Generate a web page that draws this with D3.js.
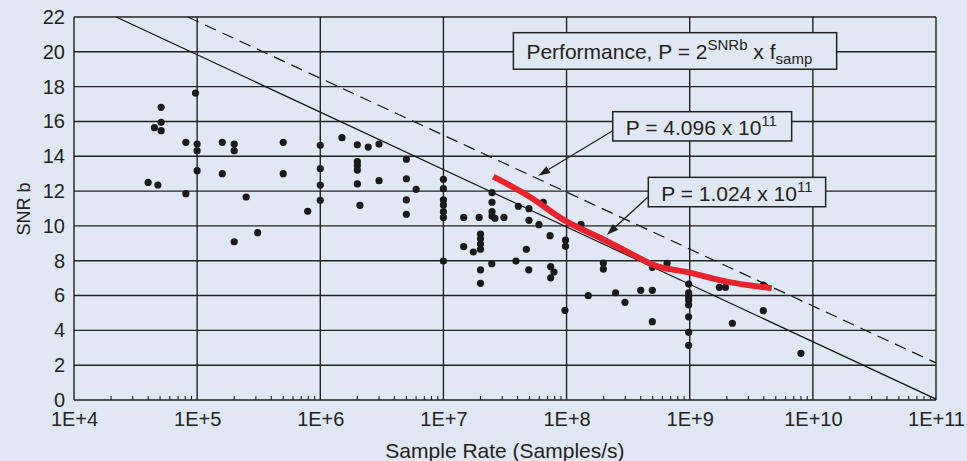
<!DOCTYPE html>
<html>
<head>
<meta charset="utf-8">
<script src="https://cdn.jsdelivr.net/npm/d3@7"></script>
<style>
  html, body { margin: 0; padding: 0; background: #e1e8f5; }
  svg { display: block; font-family: "Liberation Sans", Arial, Helvetica, sans-serif; }
</style>
</head>
<body>
<svg width="967" height="461"></svg>
<script>
// sample rate (samples/s) and SNR bits for each converter
var sampleRate = [
    4.0e4, 4.8e4, 4.5e4, 5.1e4, 5.1e4, 5.1e4, 8.1e4, 8.1e4, 9.7e4, 1e5,
    1e5, 1e5, 1.6e5, 1.6e5, 2e5, 2e5, 2e5, 2.5e5, 3.1e5, 5e5,
    5e5, 7.9e5, 1e6, 1e6, 1e6, 1e6, 1.5e6, 2e6, 2.45e6, 3e6,
    2e6, 2e6, 2e6, 2e6, 3e6, 2.1e6, 5e6, 5e6, 6e6, 5e6,
    5e6, 1e7, 1e7, 1e7, 1e7, 1e7, 1e7, 1e7, 1.46e7, 1.95e7,
    1.46e7, 1.75e7, 2e7, 2e7, 2e7, 2e7, 2e7, 2e7, 2.48e7, 2.48e7,
    2.48e7, 2.48e7, 2.62e7, 2.47e7, 3.1e7, 4.06e7, 3.88e7, 4.95e7, 4.95e7, 4.71e7,
    4.93e7, 5.97e7, 6.47e7, 7.34e7, 7.43e7, 7.9e7, 7.43e7, 9.8e7, 9.8e7, 9.7e7,
    1.31e8, 1.5e8, 1.99e8, 1.99e8, 2.5e8, 2.98e8, 4.0e8, 4.97e8, 4.97e8, 4.97e8,
    6.55e8, 9.8e8, 9.8e8, 9.8e8, 9.8e8, 9.8e8, 9.8e8, 9.8e8, 9.8e8, 1.74e9,
    1.95e9, 2.22e9, 3.96e9, 3.96e9, 8.0e9
];
var snrBits = [
    12.5, 12.35, 15.64, 16.81, 15.95, 15.47, 14.8, 11.85, 17.63, 14.7,
    14.32, 13.17, 14.8, 13.0, 14.7, 14.32, 9.09, 11.66, 9.61, 14.8,
    13.0, 10.84, 14.63, 13.29, 12.35, 11.47, 15.07, 14.66, 14.53, 14.7,
    13.69, 13.46, 13.21, 12.41, 12.6, 11.18, 13.83, 12.71, 12.1, 11.49,
    10.67, 12.68, 12.14, 11.49, 11.2, 10.82, 10.49, 7.98, 10.49, 10.49,
    8.81, 8.5, 9.53, 9.26, 8.96, 8.66, 7.47, 6.7, 11.91, 11.36,
    10.82, 10.57, 10.44, 7.83, 10.49, 11.13, 7.98, 10.99, 10.32, 8.66,
    7.48, 10.07, 11.36, 9.44, 7.66, 7.35, 7.02, 9.19, 8.83, 5.15,
    10.09, 5.99, 7.87, 7.52, 6.16, 5.61, 6.3, 6.3, 7.62, 4.5,
    7.85, 6.66, 6.15, 5.93, 5.74, 5.46, 4.78, 3.89, 3.14, 6.47,
    6.47, 4.41, 6.6, 5.13, 2.68
];

// red trend curve
var trendRate = [2.54e7, 5.05e7, 9.4e7, 1.99e8, 3.27e8, 5.06e8, 9.8e8, 2.0e9, 4.63e9];
var trendSnr  = [12.83, 11.66, 10.36, 9.22, 8.44, 7.76, 7.33, 6.8, 6.42];

// constant-performance lines (end points)
var solidLineRate = [2.2e4, 1e11];
var solidLineSnr  = [22, 0.05];
var dashLineRate  = [8.4e4, 1e11];
var dashLineSnr   = [22, 2.13];

var xTicks = [1e4, 1e5, 1e6, 1e7, 1e8, 1e9, 1e10, 1e11];
var xTickLabels = ["1E+4", "1E+5", "1E+6", "1E+7", "1E+8", "1E+9", "1E+10", "1E+11"];
var yTicks = [0, 2, 4, 6, 8, 10, 12, 14, 16, 18, 20, 22];

var svg = d3.select("svg");
var ink = "#222";

var x = d3.scaleLog().domain([1e4, 1e11]).range([74, 936]);
var y = d3.scaleLinear().domain([0, 22]).range([400, 17]);

var g = svg.append("g");

// grid
g.selectAll("line.hgrid").data(yTicks).enter().append("line")
    .attr("class", "hgrid")
    .attr("x1", x(1e4)).attr("x2", x(1e11))
    .attr("y1", function (d) { return y(d); }).attr("y2", function (d) { return y(d); })
    .attr("stroke", ink).attr("stroke-width", 1.4);
g.selectAll("line.vgrid").data(xTicks).enter().append("line")
    .attr("class", "vgrid")
    .attr("x1", function (d) { return x(d); }).attr("x2", function (d) { return x(d); })
    .attr("y1", y(0)).attr("y2", y(22))
    .attr("stroke", ink).attr("stroke-width", 1.4);

// minor ticks along the bottom
var minor = [];
xTicks.slice(0, -1).forEach(function (d) {
    for (var k = 2; k <= 9; k++) minor.push(d * k);
});
g.selectAll("line.minor").data(minor).enter().append("line")
    .attr("x1", function (d) { return x(d); }).attr("x2", function (d) { return x(d); })
    .attr("y1", y(0)).attr("y2", y(0) - 4)
    .attr("stroke", ink).attr("stroke-width", 1.1);

// axes
var xAxis = d3.axisBottom(x).tickValues(xTicks)
    .tickFormat(function (d, i) { return xTickLabels[i]; })
    .tickSize(0).tickPadding(12);
var yAxis = d3.axisLeft(y).tickValues(yTicks).tickSize(0).tickPadding(9);

var gx = svg.append("g").attr("transform", "translate(0," + y(0) + ")").call(xAxis);
var gy = svg.append("g").attr("transform", "translate(" + x(1e4) + ",0)").call(yAxis);
[gx, gy].forEach(function (a) {
    a.select(".domain").remove();
    a.selectAll("text").attr("font-size", 20).attr("fill", ink)
        .attr("font-family", "Liberation Sans, Arial, sans-serif");
});
gx.selectAll("text").attr("dy", "0.68em");

svg.append("text")
    .attr("x", 505).attr("y", 458)
    .attr("text-anchor", "middle").attr("font-size", 21).attr("fill", ink)
    .text("Sample Rate (Samples/s)");
svg.append("text")
    .attr("transform", "translate(30,209) rotate(-90)")
    .attr("text-anchor", "middle").attr("font-size", 18).attr("fill", ink)
    .text("SNR b");

// performance lines
var line = d3.line()
    .x(function (d) { return x(d[0]); })
    .y(function (d) { return y(d[1]); });

g.append("path")
    .datum(d3.zip(solidLineRate, solidLineSnr))
    .attr("d", line).attr("fill", "none")
    .attr("stroke", "#111").attr("stroke-width", 1.2);
g.append("path")
    .datum(d3.zip(dashLineRate, dashLineSnr))
    .attr("d", line).attr("fill", "none")
    .attr("stroke", "#111").attr("stroke-width", 1.2)
    .attr("stroke-dasharray", "12,7");

// data points
g.selectAll("circle").data(d3.zip(sampleRate, snrBits)).enter().append("circle")
    .attr("cx", function (d) { return x(d[0]); })
    .attr("cy", function (d) { return y(d[1]); })
    .attr("r", 3.6)
    .attr("fill", "#1a1a1a");

// red trend
g.append("path")
    .datum(d3.zip(trendRate, trendSnr))
    .attr("d", line.curve(d3.curveMonotoneX))
    .attr("fill", "none")
    .attr("stroke", "#e8232b").attr("stroke-width", 6);

// annotation boxes
function box(x0, y0, x1, y1) {
    svg.append("rect")
        .attr("x", x(x0)).attr("y", y(y0))
        .attr("width", x(x1) - x(x0)).attr("height", y(y1) - y(y0))
        .attr("fill", "#e1e8f5").attr("stroke", ink).attr("stroke-width", 1.5);
}

function arrow(fx, fy, tx, ty) {
    var x0 = x(fx), y0 = y(fy), x1 = x(tx), y1 = y(ty);
    var a = Math.atan2(y1 - y0, x1 - x0);
    var len = 12, w = 4;
    var bx = x1 - len * Math.cos(a), by = y1 - len * Math.sin(a);
    svg.append("line")
        .attr("x1", x0).attr("y1", y0).attr("x2", bx).attr("y2", by)
        .attr("stroke", ink).attr("stroke-width", 1.3);
    svg.append("path")
        .attr("d", "M" + x1 + "," + y1 +
            "L" + (bx + w * Math.sin(a)) + "," + (by - w * Math.cos(a)) +
            "L" + (bx - w * Math.sin(a)) + "," + (by + w * Math.cos(a)) + "Z")
        .attr("fill", ink);
}

arrow(2.37e8, 15.47, 5.89e7, 12.88);
arrow(4.61e8, 11.68, 2.12e8, 9.48);

box(3.70e7, 21.1, 1.56e10, 19.0);
box(2.37e8, 16.56, 6.73e9, 14.88);
box(4.61e8, 12.79, 1.27e10, 11.1);

var t1 = svg.append("text")
    .attr("x", x(3.70e7) + 13).attr("y", 59)
    .attr("font-size", 21).attr("fill", ink);
t1.append("tspan").text("Performance, P = 2");
t1.append("tspan").attr("font-size", 15).attr("dy", -9).text("SNRb");
t1.append("tspan").attr("dy", 9).text(" x f");
t1.append("tspan").attr("font-size", 15).attr("dy", 5).text("samp");

var t2 = svg.append("text")
    .attr("x", x(2.37e8) + 13).attr("y", 135)
    .attr("font-size", 21).attr("fill", ink);
t2.append("tspan").text("P = 4.096 x 10");
t2.append("tspan").attr("font-size", 15).attr("dy", -9).text("11");

var t3 = svg.append("text")
    .attr("x", x(4.61e8) + 13).attr("y", 200.5)
    .attr("font-size", 21).attr("fill", ink);
t3.append("tspan").text("P = 1.024 x 10");
t3.append("tspan").attr("font-size", 15).attr("dy", -9).text("11");
</script>
</body>
</html>
